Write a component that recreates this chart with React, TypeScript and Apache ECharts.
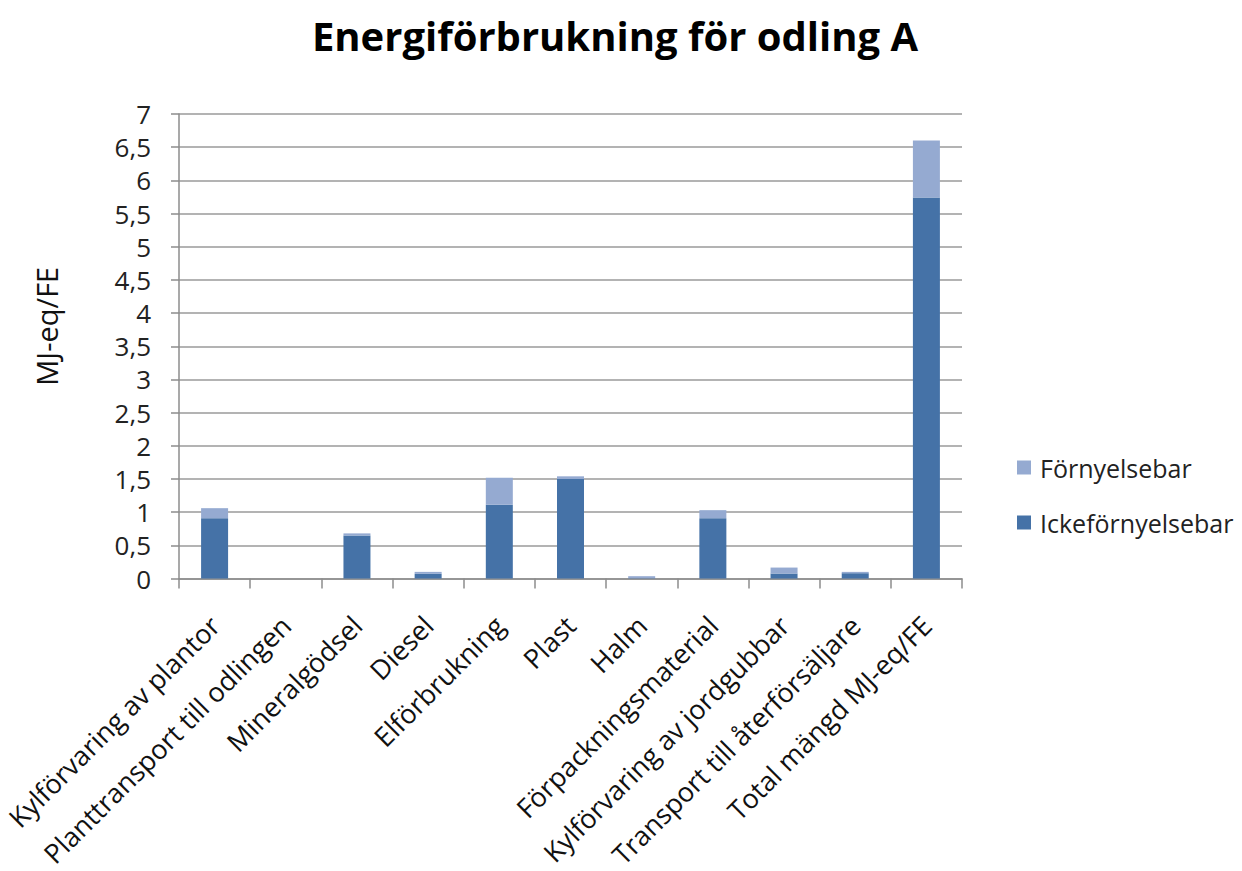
import React, { useEffect, useRef } from "react";
import * as echarts from "echarts";

const categories = [
  "Kylförvaring av plantor",
  "Planttransport till odlingen",
  "Mineralgödsel",
  "Diesel",
  "Elförbrukning",
  "Plast",
  "Halm",
  "Förpackningsmaterial",
  "Kylförvaring av jordgubbar",
  "Transport till återförsäljare",
  "Total mängd MJ-eq/FE",
];

const ickeFornyelsebar = [0.91, 0, 0.65, 0.07, 1.11, 1.5, 0.005, 0.91, 0.075, 0.08, 5.74];
const fornyelsebar = [0.15, 0, 0.03, 0.03, 0.41, 0.04, 0.03, 0.12, 0.09, 0.02, 0.86];

const FONT = "'Open Sans', Lato, sans-serif";

export default function App() {
  const ref = useRef<HTMLDivElement>(null);
  useEffect(() => {
    if (!ref.current) return;
    const chart = echarts.init(ref.current, undefined, { renderer: "svg" });
    chart.setOption({
      animation: false,
      backgroundColor: "#ffffff",
      title: {
        text: "Energiförbrukning för odling A",
        left: 610,
        top: 10,
        textAlign: "center",
        textStyle: { fontFamily: FONT, fontSize: 40, fontWeight: "bold", color: "#000" },
      },
      grid: { left: 179, right: 280, top: 114, bottom: 289, containLabel: false },
      legend: {
        orient: "vertical",
        left: 1012,
        top: 450,
        itemGap: 30,
        itemWidth: 14,
        itemHeight: 14,
        icon: "rect",
        data: ["Förnyelsebar", "Ickeförnyelsebar"],
        textStyle: { fontFamily: FONT, fontSize: 25, color: "#222", padding: [0, 0, 0, 4] },
      },
      xAxis: {
        type: "category",
        data: categories,
        axisLine: { lineStyle: { color: "#8c8c8c", width: 1.5 } },
        axisTick: { show: true, length: 10, lineStyle: { color: "#8c8c8c", width: 1.5 } },
        axisLabel: {
          rotate: 45,
          interval: 0,
          margin: 42,
          fontFamily: FONT,
          fontSize: 27,
          color: "#111",
        },
      },
      yAxis: {
        type: "value",
        min: 0,
        max: 7,
        interval: 0.5,
        name: "MJ-eq/FE",
        nameLocation: "middle",
        nameGap: 118,
        nameTextStyle: { fontFamily: FONT, fontSize: 29, color: "#111", padding: [0, 0, 0, 40] },
        axisLine: { show: true, lineStyle: { color: "#8c8c8c", width: 1.5 } },
        axisTick: { show: true, length: 8, lineStyle: { color: "#8c8c8c", width: 1.5 } },
        splitLine: { lineStyle: { color: "#9a9a9a", width: 1.5 } },
        axisLabel: {
          margin: 28,
          fontFamily: FONT,
          fontSize: 26,
          color: "#222",
          formatter: (v: number) => String(v).replace(".", ","),
        },
      },
      series: [
        {
          name: "Ickeförnyelsebar",
          type: "bar",
          stack: "total",
          barWidth: 27,
          data: ickeFornyelsebar,
          itemStyle: { color: "#4572A7" },
        },
        {
          name: "Förnyelsebar",
          type: "bar",
          stack: "total",
          barWidth: 27,
          data: fornyelsebar,
          itemStyle: { color: "#95AAD1" },
        },
      ],
    });
    return () => chart.dispose();
  }, []);
  return (
    <div
      ref={ref}
      style={{ width: 1242, height: 871, position: "fixed", left: 0, top: 0, overflow: "hidden" }}
    />
  );
}
